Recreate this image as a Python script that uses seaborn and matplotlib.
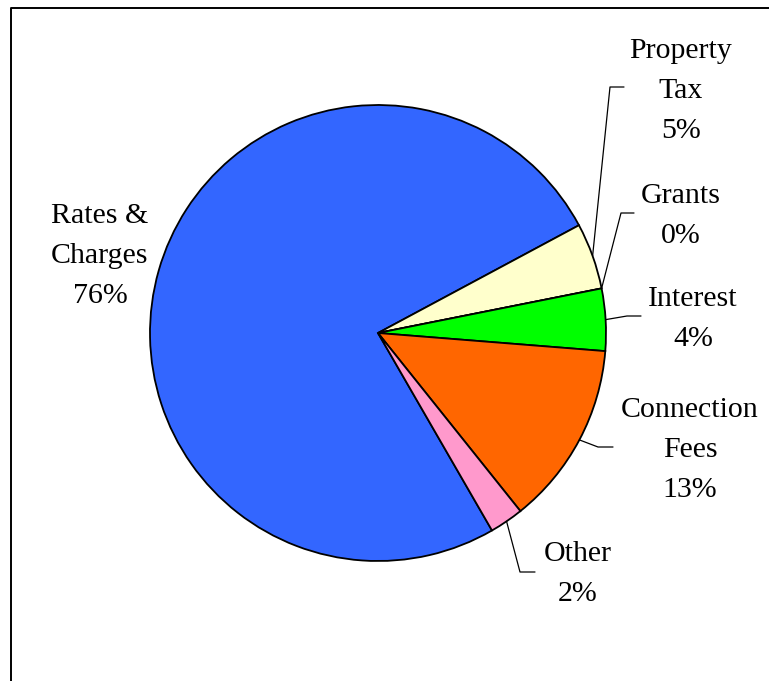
import numpy as np
import matplotlib
matplotlib.use("Agg")
import matplotlib.pyplot as plt
import seaborn as sns

# data
labels = ["Rates &\nCharges", "Property\nTax", "Grants", "Interest", "Connection\nFees", "Other"]
shares = [75.5, 4.7, 0.0, 4.4, 13.0, 2.4]   # percent
shown = ["76%", "5%", "0%", "4%", "13%", "2%"]
colors = ["#3366FF", "#FFFFCC", "#9999FF", "#00FF00", "#FF6600", "#FF99CC"]

# layout (pixel coords, y from top)
W, H = 769, 681
CX, CY, R = 378, 333, 228
# text centre, elbow of the leader line (None = no leader)
text_pos = [(100, 256), (681, 91), (681, 216), (693, 319), (690, 450), (578, 574)]
elbows = [None, (610, 87), (621, 213), (627, 316), (598, 447), (520, 572)]
elbow_len = [0, 14, 13, 14, 15, 15]

sns.set_theme(style="white")
plt.rcParams["font.family"] = ["Liberation Serif", "DejaVu Serif"]

fig = plt.figure(figsize=(W / 100, H / 100), dpi=100)
ax = fig.add_axes([0, 0, 1, 1])

wedges, _ = ax.pie(shares, colors=colors, startangle=-60, counterclock=False,
                   center=(CX, H - CY), radius=R,
                   wedgeprops=dict(edgecolor="black", linewidth=1.3))
ax.set_xlim(0, W)
ax.set_ylim(0, H)
ax.set_aspect("equal")
ax.axis("off")

for w, lab, pct, (tx, ty), elb, el in zip(wedges, labels, shown, text_pos, elbows, elbow_len):
    ax.text(tx, H - ty, f"{lab}\n{pct}", ha="center", va="center",
            fontsize=21.5, linespacing=1.72, color="black")
    if elb is None:
        continue
    mid = np.deg2rad((w.theta1 + w.theta2) / 2)
    sx = CX + R * np.cos(mid)
    sy = H - CY + R * np.sin(mid)
    ex, ey = elb[0], H - elb[1]
    ax.plot([sx, ex, ex + el], [sy, ey, ey], color="black", lw=0.9)

# outer frame (left and top edges only visible)
fx = 10.5 / W
fy = 1 - 7.5 / H
fig.add_artist(plt.Line2D([fx, fx, 1.01], [-0.01, fy, fy], transform=fig.transFigure,
                          color="black", lw=1.4))

fig.savefig("out.png", dpi=100, facecolor="white")
